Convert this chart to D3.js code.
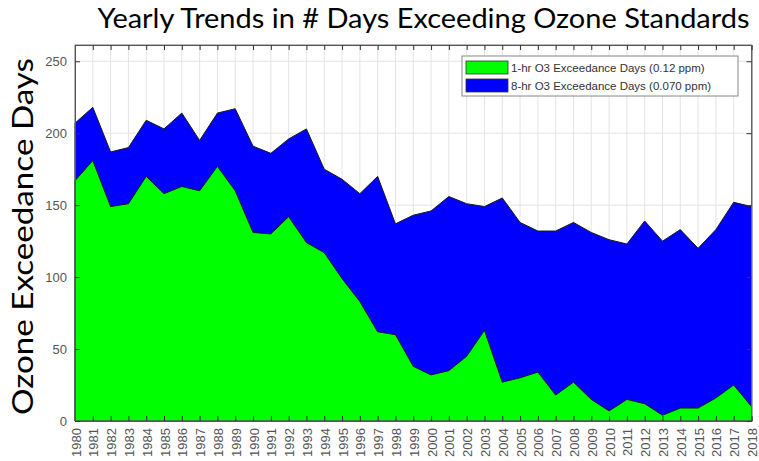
<!DOCTYPE html>
<html>
<head>
<meta charset="utf-8">
<script src="https://cdn.jsdelivr.net/npm/d3@7"></script>
<style>
  body { margin: 0; background: #fff; }
  svg { display: block; }
</style>
</head>
<body>
<div id="chart"></div>
<script>
// data
var years = d3.range(1980, 2019);
var oneHrDays = [167, 181, 149, 151, 170, 158, 163, 160, 177, 160,
                 131, 130, 142, 124, 117, 99, 83, 62, 60, 38,
                 32, 35, 45, 63, 27, 30, 34, 18, 27, 15,
                 7, 15, 12, 4, 9, 9, 16, 25, 10];
var eightHrDays = [207, 218, 187, 190, 209, 203, 214, 195, 214, 217,
                   191, 186, 196, 203, 175, 168, 158, 170, 137, 143,
                   146, 156, 151, 149, 155, 138, 132, 132, 138, 131,
                   126, 123, 139, 125, 133, 120, 133, 152, 149];
var yTicks = [0, 50, 100, 150, 200, 250];
var seriesNames = ["1-hr O3 Exceedance Days (0.12 ppm)", "8-hr O3 Exceedance Days (0.070 ppm)"];
var seriesColors = ["#00ff00", "#0000ff"];

var W = 759, H = 461;
var margin = {top: 45, left: 75, right: 7.5, bottom: 40};
var width = W - margin.left - margin.right;
var height = H - margin.top - margin.bottom;

var svg = d3.select("#chart").append("svg")
	.attr("width", W)
	.attr("height", H);

var x = d3.scaleLinear().domain([1980, 2018]).range([0, width]);
var y = d3.scaleLinear().domain([0, 261.3]).range([height, 0]);

var g = svg.append("g")
	.attr("transform", "translate(" + margin.left + "," + margin.top + ")");

// grid behind the areas
g.append("g").selectAll("line.vgrid")
	.data(years).enter()
	.append("line")
	.attr("x1", function(d) {return x(d);})
	.attr("x2", function(d) {return x(d);})
	.attr("y1", 0).attr("y2", height)
	.style("stroke", "#e4e4e4")
	.style("stroke-width", 1);

g.append("g").selectAll("line.hgrid")
	.data(yTicks).enter()
	.append("line")
	.attr("x1", 0).attr("x2", width)
	.attr("y1", function(d) {return y(d);})
	.attr("y2", function(d) {return y(d);})
	.style("stroke", "#e4e4e4")
	.style("stroke-width", 1);

var areaGen = d3.area()
	.x(function(d, i) {return x(years[i]);})
	.y0(y(0))
	.y1(function(d) {return y(d);});

// 8-hr behind, 1-hr in front
g.append("path")
	.datum(eightHrDays)
	.attr("d", areaGen)
	.style("fill", seriesColors[1])
	.style("stroke", "#1a1a1a")
	.style("stroke-width", 1);

g.append("path")
	.datum(oneHrDays)
	.attr("d", areaGen)
	.style("fill", seriesColors[0])
	.style("stroke", "#1a1a1a")
	.style("stroke-width", 1);

// box
g.append("rect")
	.attr("x", 0).attr("y", 0)
	.attr("width", width).attr("height", height)
	.style("fill", "none")
	.style("stroke", "#777")
	.style("stroke-width", 1);

// axes, ticks inside like matlab
var xAxis = d3.axisBottom(x).tickValues(years).tickSize(-5).tickFormat("");
var xAxisTop = d3.axisTop(x).tickValues(years).tickSize(-5).tickFormat("");
var yAxis = d3.axisLeft(y).tickValues(yTicks).tickSize(-5).tickPadding(8);
var yAxisRight = d3.axisRight(y).tickValues(yTicks).tickSize(-5).tickFormat("");

var gx = g.append("g").attr("transform", "translate(0," + height + ")").call(xAxis);
g.append("g").call(xAxisTop);
var gy = g.append("g").call(yAxis);
g.append("g").attr("transform", "translate(" + width + ",0)").call(yAxisRight);

g.selectAll(".domain").style("stroke", "#555");
g.selectAll(".tick line").style("stroke", "#333");

gy.selectAll("text")
	.style("font-family", "'Liberation Sans', Arial, sans-serif")
	.style("font-size", "13px")
	.style("fill", "#555");

// rotated year labels
gx.selectAll(".tick").append("text")
	.attr("transform", "translate(5,7) rotate(-90)")
	.attr("text-anchor", "end")
	.style("font-family", "'Liberation Sans', Arial, sans-serif")
	.style("font-size", "13px")
	.style("fill", "#555")
	.text(function(d) {return d;});

// legend
var legend = svg.append("g").attr("transform", "translate(462,56)");
legend.append("rect")
	.attr("width", 276).attr("height", 40)
	.style("fill", "#fff")
	.style("stroke", "#888")
	.style("stroke-width", 1);

var items = legend.selectAll("g.item")
	.data(seriesNames).enter()
	.append("g")
	.attr("transform", function(d, i) {return "translate(4," + (5 + i * 18) + ")";});

items.append("rect")
	.attr("width", 42).attr("height", 13)
	.style("fill", function(d, i) {return seriesColors[i];})
	.style("stroke", "#333")
	.style("stroke-width", 0.8);

items.append("text")
	.attr("x", 45).attr("y", 11)
	.style("font-family", "'Liberation Sans', Arial, sans-serif")
	.style("font-size", "11.5px")
	.style("fill", "#333")
	.text(function(d) {return d;});

// title and y label
svg.append("text")
	.attr("x", 423.5).attr("y", 28)
	.attr("text-anchor", "middle")
	.attr("textLength", 652)
	.attr("lengthAdjust", "spacingAndGlyphs")
	.style("font-family", "Lato, 'Open Sans', sans-serif")
	.style("font-size", "26px")
	.style("fill", "#000")
	.text("Yearly Trends in # Days Exceeding Ozone Standards");

svg.append("text")
	.attr("transform", "translate(33,236.5) rotate(-90)")
	.attr("text-anchor", "middle")
	.attr("textLength", 357)
	.attr("lengthAdjust", "spacingAndGlyphs")
	.style("font-family", "Lato, 'Open Sans', sans-serif")
	.style("font-size", "28px")
	.style("fill", "#000")
	.text("Ozone Exceedance Days");
</script>
</body>
</html>
